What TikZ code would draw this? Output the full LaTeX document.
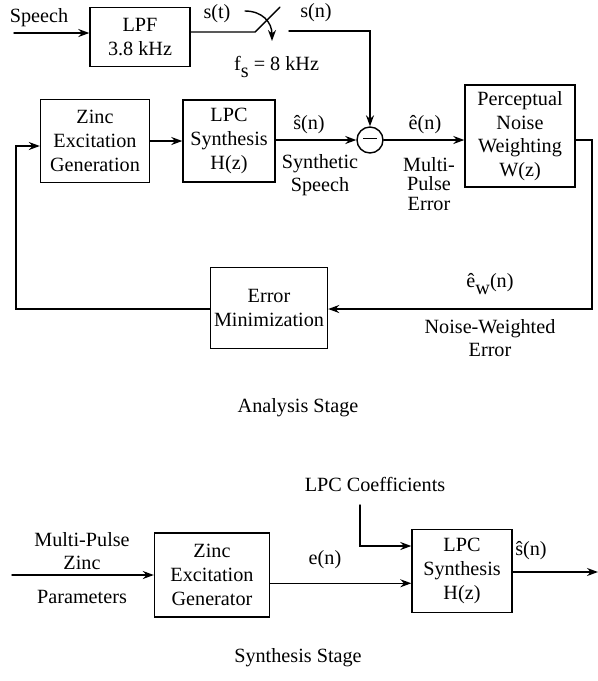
\documentclass[tikz,border=0pt]{standalone}
\usepackage{fontspec}
\setmainfont{Liberation Serif}
\usetikzlibrary{arrows.meta}

\begin{document}
\begin{tikzpicture}[x=0.02cm,y=-0.02cm,>={Stealth[length=2.2mm,width=1.6mm]},line cap=round,
  font=\fontsize{11.5}{13.5}\selectfont,
  blk/.style={draw,thick,align=center,inner sep=2pt},
  lbl/.style={align=center,inner sep=1pt}]
\useasboundingbox (0,0) rectangle (598,681);
% analysis stage
\node[blk,minimum width=2cm,minimum height=1.18cm] (lpf) at (140,37) {LPF\\3.8 kHz};
\node[lbl] (speech) at (39,18) {Speech};
\coordinate (in) at (14,33);
\draw[->,thick] (in) -- (in -| lpf.west);
\node[lbl] (st) at (217,14) {s(t)};
\coordinate (swa) at (255,32);
\coordinate (swb) at (280,7);
\coordinate (swc) at (289,31);
\coordinate (swd) at (370,31);
\draw[thick] (lpf.east |- swa) -- (swa) -- (swb);
\draw[->,thick] (245,11) .. controls (262,11) and (272,22) .. (272,41);
\node[lbl] (sn) at (316,13) {s(n)};
\node[lbl,anchor=west] (fs) at (232,67) {f\raisebox{-0.7ex}{s} = 8 kHz};

\node[blk,minimum width=2.18cm,minimum height=1.66cm] (zeg) at (95,141) {Zinc\\Excitation\\Generation};
\node[blk,minimum width=1.84cm,minimum height=1.64cm] (lpc) at (229,141) {LPC\\Synthesis\\H(z)};
\node[draw,thick,circle,minimum size=0.52cm,inner sep=0pt] (sum) at (370,140) {\rule[0.25ex]{0.28cm}{0.7pt}};
\node[blk,minimum width=2.2cm,minimum height=2.04cm] (pnw) at (520,136) {Perceptual\\Noise\\Weighting\\W(z)};
\node[blk,minimum width=2.32cm,minimum height=1.62cm] (emin) at (269,308) {Error\\Minimization};

\draw[->,thick] (swc) -- (swd) -- (sum.north);
\draw[->,thick] (zeg) -- (lpc);
\draw[->,thick] (lpc.east |- sum) -- (sum.west);
\draw[->,thick] (sum.east) -- (sum -| pnw.west);
\coordinate (rc) at (592,309);
\coordinate (lc) at (16,309);
\draw[->,thick] (pnw.east |- sum) -| (rc) -- (rc -| emin.east);
\draw[->,thick] (emin.west |- lc) -- (lc) |- ([yshift=-0.1cm]zeg.west);

\node[lbl] (shat) at (309,125) {ŝ(n)};
\node[lbl] (synsp) at (320,175) {Synthetic\\Speech};
\node[lbl] (ehat) at (425,125) {ê(n)};
\node[lbl,font=\fontsize{11.5}{11}\selectfont] (mpe) at (429,184) {Multi-\\Pulse\\Error};
\node[lbl] (ew) at (490,284) {ê\raisebox{-0.7ex}{w}(n)};
\node[lbl] (nwe) at (490,338) {Noise-Weighted\\Error};
\node[lbl] (ana) at (298,408) {Analysis Stage};

% synthesis stage
\node[blk,minimum width=2.3cm,minimum height=1.68cm] (zgen) at (212,575) {Zinc\\Excitation\\Generator};
\node[blk,minimum width=2cm,minimum height=1.66cm] (lpc2) at (462,571) {LPC\\Synthesis\\H(z)};
\node[lbl] (coef) at (375,484) {LPC Coefficients};
\node[lbl] (mpz) at (82,551) {Multi-Pulse\\Zinc};
\node[lbl] (par) at (82,597) {Parameters};
\node[lbl] (en) at (325,560) {e(n)};
\node[lbl] (shat2) at (531,551) {ŝ(n)};
\coordinate (pin) at (12,575);
\coordinate (cf) at (360,505);
\coordinate (cfb) at (360,546);
\coordinate (out) at (598,572);
\draw[->,thick] (pin) -- (pin -| zgen.west);
\draw[->,thick] (zgen.east |- en.south) ++(0,12) coordinate (ea) -- (ea -| lpc2.west);
\draw[->,thick] (cf) -- (cfb) -- (cfb -| lpc2.west);
\draw[->,thick] (lpc2.east |- out) -- (out);
\node[lbl] (syn) at (298,658) {Synthesis Stage};
\end{tikzpicture}
\end{document}
